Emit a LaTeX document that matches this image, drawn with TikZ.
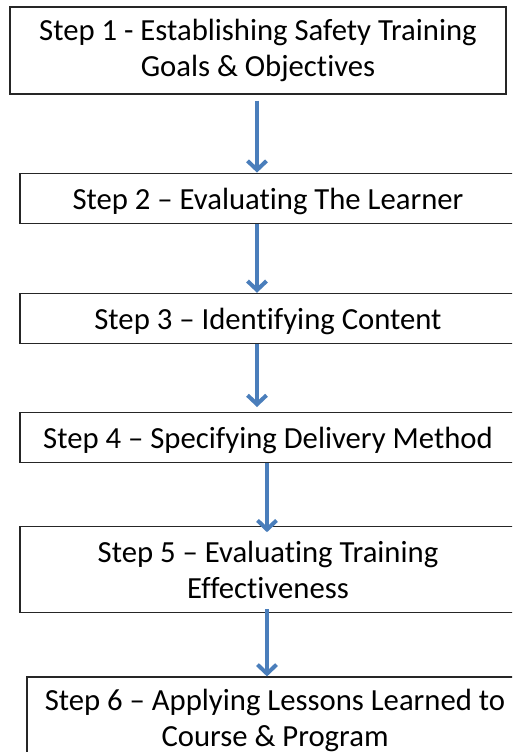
\documentclass[tikz,border=0pt]{standalone}
\usepackage{fontspec}
\setmainfont[Ligatures=NoCommon]{Carlito}
\usetikzlibrary{positioning,arrows.meta}

\definecolor{flowblue}{HTML}{4A7EBB}

\tikzset{
  stepbox/.style={draw=black!85, line width=1.2pt, minimum width=496pt,
    minimum height=50pt, align=center, inner sep=0pt,
    font=\fontsize{30.7}{36}\selectfont,
    execute at begin node={\rule{0pt}{27pt}}},
  flow/.style={draw=flowblue, line width=4pt,
    -{Straight Barb[length=9pt,width=19pt]}}
}

\begin{document}
\begin{tikzpicture}
  \useasboundingbox (0,0) rectangle (512pt,-752pt);
  \clip (0,0) rectangle (512pt,-752pt);

  \node (s1) [stepbox, minimum height=87pt] at (258pt,-50.5pt)
    {Step 1 - Establishing Safety Training\\Goals \& Objectives};
  \node (s2) [stepbox, below=78pt of s1, xshift=10pt]
    {Step 2 – Evaluating The Learner};
  \node (s3) [stepbox, below=69pt of s2]
    {Step 3 – Identifying Content};
  \node (s4) [stepbox, below=68pt of s3]
    {Step 4 – Specifying Delivery Method};
  \node (s5) [stepbox, minimum height=86pt, below=63pt of s4]
    {Step 5 – Evaluating Training\\Effectiveness};
  \node (s6) [stepbox, minimum height=87pt, below=63pt of s5, xshift=7pt]
    {Step 6 – Applying Lessons Learned to\\Course \& Program};

  % arrows between the steps
  \draw [flow] ([xshift=-1pt,yshift=-6pt]s1.south) -- ([xshift=-1pt]s1.south |- s2.north);
  \draw [flow] ([xshift=-11pt]s2.south) -- ([xshift=-11pt]s2.south |- s3.north);
  \draw [flow] ([xshift=-11pt]s3.south) -- ([xshift=-11pt,yshift=5pt]s3.south |- s4.north);
  \draw [flow] ([xshift=-1pt]s4.south) -- ([xshift=-1pt,yshift=-6pt]s4.south |- s5.north);
  \draw [flow] ([xshift=-1pt,yshift=4pt]s5.south) -- ([xshift=-1pt]s5.south |- s6.north);
\end{tikzpicture}
\end{document}
